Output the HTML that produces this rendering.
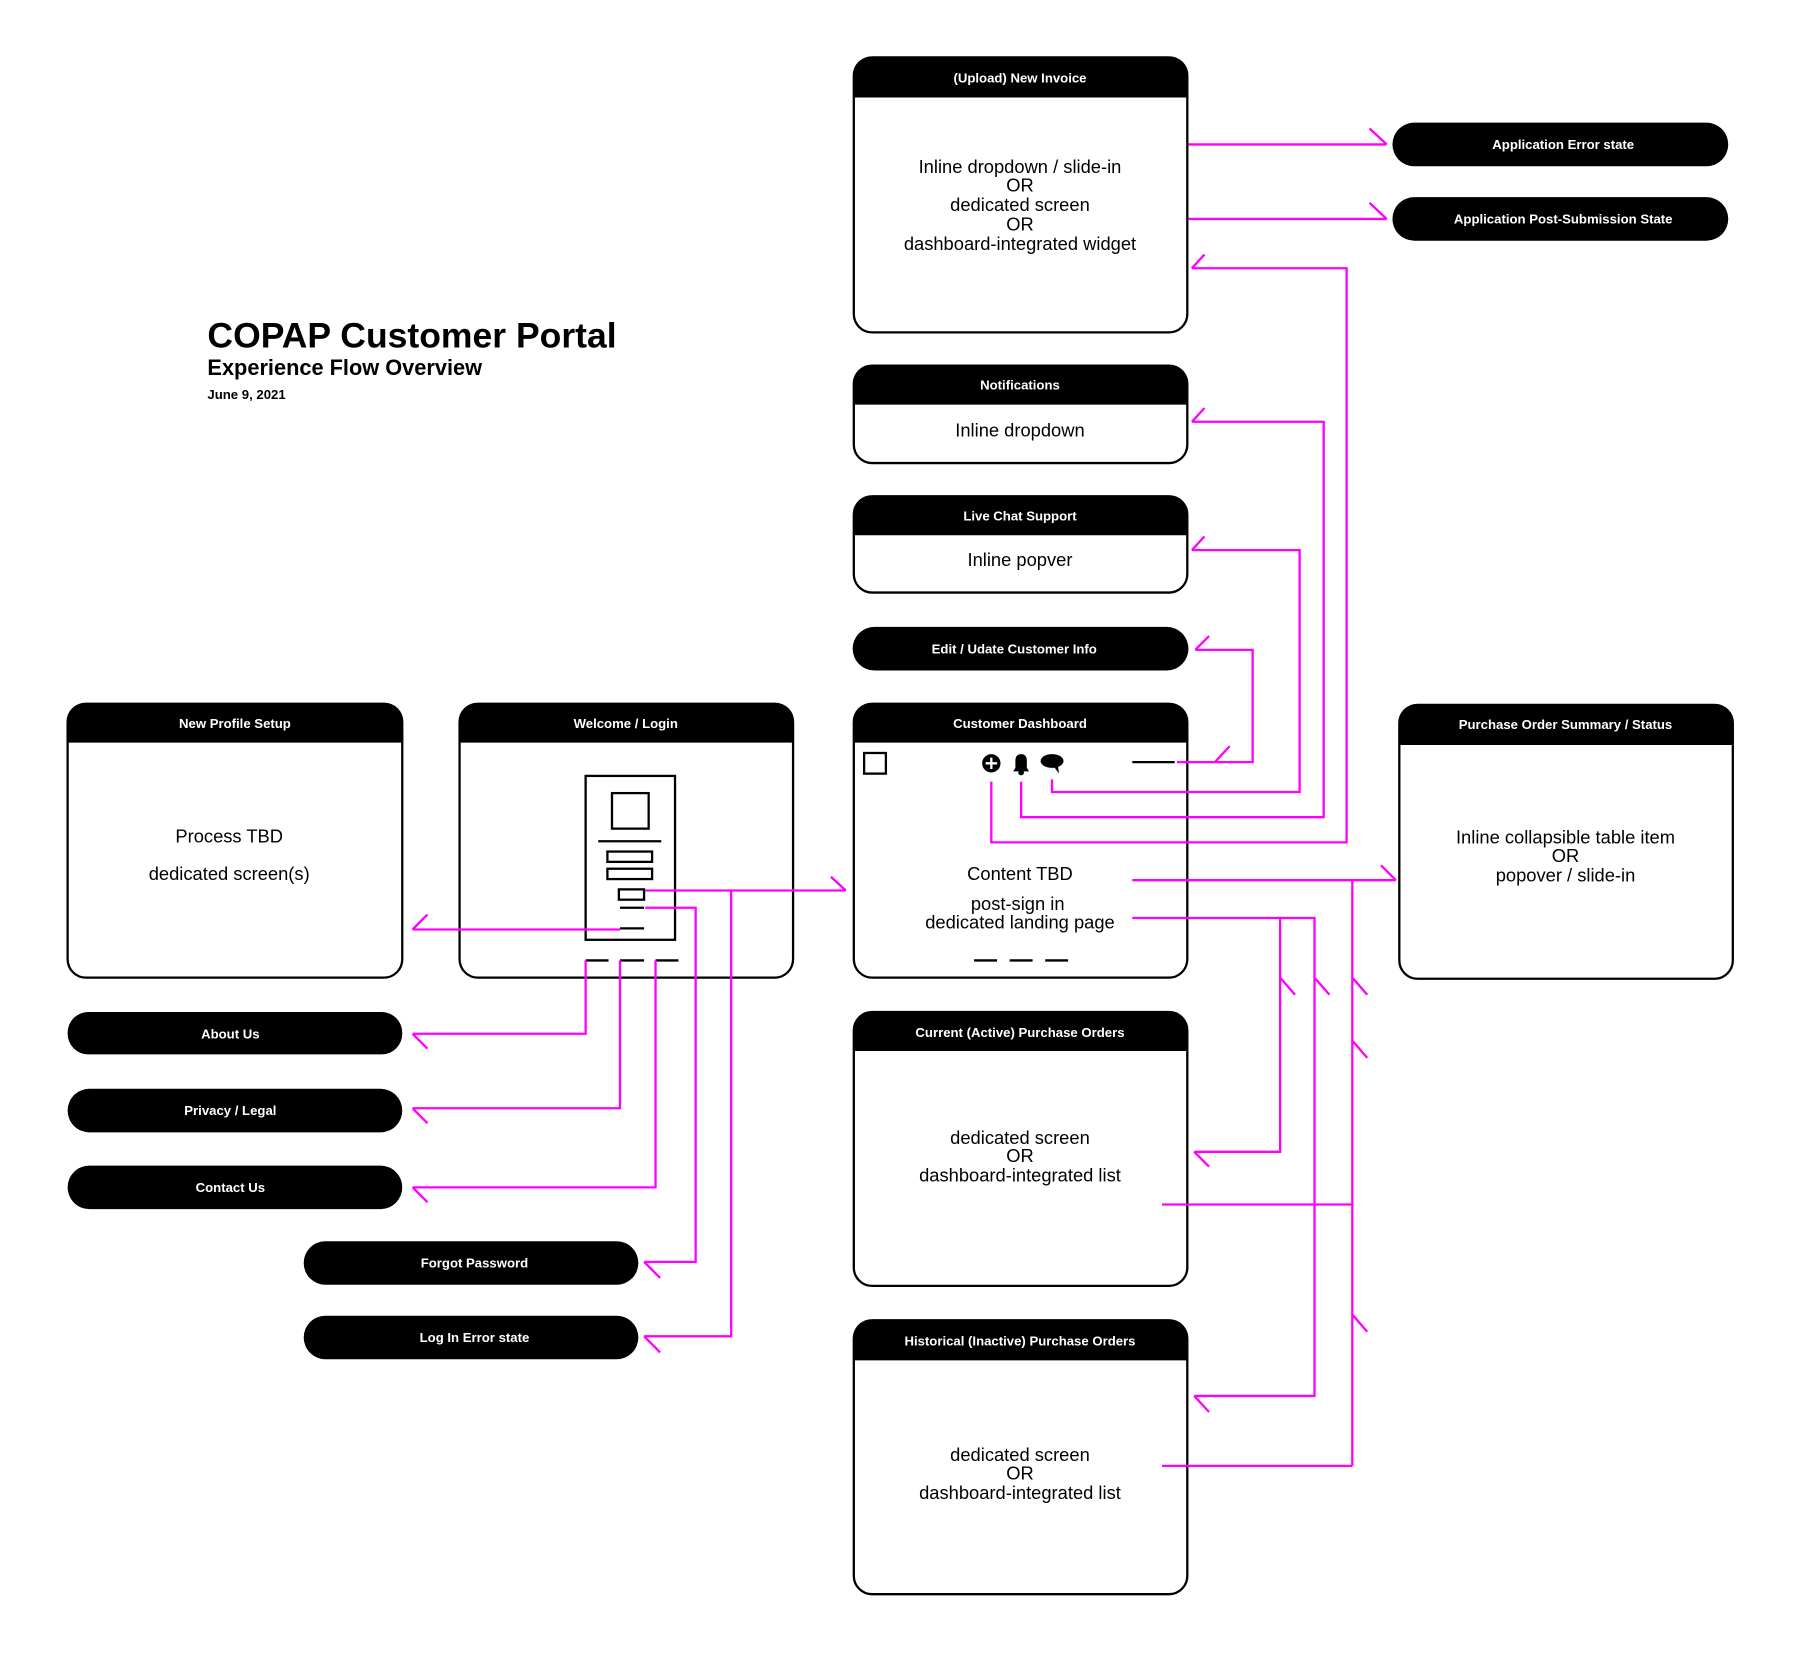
<!DOCTYPE html>
<html><head><meta charset="utf-8"><style>
html,body{margin:0;padding:0;background:#fff;}
svg{display:block}
text{font-family:"Liberation Sans",sans-serif;}
.h{fill:#fff;font-size:11.5px;font-weight:bold;text-anchor:middle}
.b{fill:#000;font-size:16px;text-anchor:middle}
.m{fill:none;stroke:#ff00ff;stroke-width:2}
.k{fill:none;stroke:#000;stroke-width:2}
</style></head><body>
<svg width="1797" height="1663" viewBox="0 0 1568 1451" xmlns="http://www.w3.org/2000/svg">
<text x="181" y="303" font-size="31" font-weight="bold">COPAP Customer Portal</text>
<text x="181" y="327" font-size="19" font-weight="bold">Experience Flow Overview</text>
<text x="181" y="348" font-size="11.5" font-weight="bold">June 9, 2021</text>

<rect x="745" y="50" width="291" height="240" rx="16" fill="#fff" stroke="#000" stroke-width="2"/>
<path d="M745,85 V66 Q745,50 761,50 H1020 Q1036,50 1036,66 V85 Z" fill="#000"/>
<text class="h" x="890" y="72">(Upload) New Invoice</text>
<text class="b" x="890" y="151">Inline dropdown / slide-in</text>
<text class="b" x="890" y="167">OR</text>
<text class="b" x="890" y="184">dedicated screen</text>
<text class="b" x="890" y="201">OR</text>
<text class="b" x="890" y="218">dashboard-integrated widget</text>

<rect x="745" y="319" width="291" height="85" rx="16" fill="#fff" stroke="#000" stroke-width="2"/>
<path d="M745,353 V335 Q745,319 761,319 H1020 Q1036,319 1036,335 V353 Z" fill="#000"/>
<text class="h" x="890" y="340">Notifications</text>
<text class="b" x="890" y="381">Inline dropdown</text>

<rect x="745" y="433" width="291" height="84" rx="16" fill="#fff" stroke="#000" stroke-width="2"/>
<path d="M745,467 V449 Q745,433 761,433 H1020 Q1036,433 1036,449 V467 Z" fill="#000"/>
<text class="h" x="890" y="454">Live Chat Support</text>
<text class="b" x="890" y="494">Inline popver</text>

<rect x="744" y="547" width="293" height="38" rx="19" fill="#000"/>
<text class="h" x="885" y="570">Edit / Udate Customer Info</text>

<rect x="745" y="614" width="291" height="239" rx="16" fill="#fff" stroke="#000" stroke-width="2"/>
<path d="M745,648 V630 Q745,614 761,614 H1020 Q1036,614 1036,630 V648 Z" fill="#000"/>
<text class="h" x="890" y="635">Customer Dashboard</text>
<rect x="754" y="657" width="19" height="18" class="k"/>
<circle cx="865" cy="666" r="8" fill="#000"/>
<path d="M860,666 H870 M865,661 V671" stroke="#fff" stroke-width="2"/>
<path d="M884,673 H898 L896,670 V664 Q896,658 891,658 Q886,658 886,664 V670 Z" fill="#000"/>
<circle cx="891" cy="674" r="2.5" fill="#000"/>
<ellipse cx="918" cy="664" rx="10" ry="6" fill="#000"/>
<path d="M919,668 L924,675 L923,667 Z" fill="#000"/>
<path d="M988,665 H1025" stroke="#000" stroke-width="2"/>
<text class="b" x="890" y="768">Content TBD</text>
<text class="b" x="888" y="794">post-sign in</text>
<text class="b" x="890" y="810">dedicated landing page</text>
<path d="M850,838 H870 M881,838 H901 M912,838 H932" stroke="#000" stroke-width="2"/>

<rect x="401" y="614" width="291" height="239" rx="16" fill="#fff" stroke="#000" stroke-width="2"/>
<path d="M401,648 V630 Q401,614 417,614 H676 Q692,614 692,630 V648 Z" fill="#000"/>
<text class="h" x="546" y="635">Welcome / Login</text>
<rect x="511" y="677" width="78" height="143" class="k"/>
<rect x="534" y="692" width="32" height="31" class="k"/>
<path d="M522,734 H577" stroke="#000" stroke-width="2"/>
<rect x="530" y="743" width="39" height="9" class="k"/>
<rect x="530" y="758" width="39" height="9" class="k"/>
<rect x="540" y="776" width="22" height="9" class="k"/>
<path d="M541,792 H562 M541,810 H562" stroke="#000" stroke-width="2"/>
<path d="M511,838 H531 M541,838 H562 M572,838 H592" stroke="#000" stroke-width="2"/>

<rect x="59" y="614" width="292" height="239" rx="16" fill="#fff" stroke="#000" stroke-width="2"/>
<path d="M59,648 V630 Q59,614 75,614 H335 Q351,614 351,630 V648 Z" fill="#000"/>
<text class="h" x="205" y="635">New Profile Setup</text>
<text class="b" x="200" y="735">Process TBD</text>
<text class="b" x="200" y="768">dedicated screen(s)</text>

<rect x="1221" y="615" width="291" height="239" rx="16" fill="#fff" stroke="#000" stroke-width="2"/>
<path d="M1221,650 V631 Q1221,615 1237,615 H1496 Q1512,615 1512,631 V650 Z" fill="#000"/>
<text class="h" x="1366" y="636">Purchase Order Summary / Status</text>
<text class="b" x="1366" y="736">Inline collapsible table item</text>
<text class="b" x="1366" y="752">OR</text>
<text class="b" x="1366" y="769">popover / slide-in</text>

<rect x="745" y="883" width="291" height="239" rx="16" fill="#fff" stroke="#000" stroke-width="2"/>
<path d="M745,917 V899 Q745,883 761,883 H1020 Q1036,883 1036,899 V917 Z" fill="#000"/>
<text class="h" x="890" y="905">Current (Active) Purchase Orders</text>
<text class="b" x="890" y="998">dedicated screen</text>
<text class="b" x="890" y="1014">OR</text>
<text class="b" x="890" y="1031">dashboard-integrated list</text>

<rect x="745" y="1152" width="291" height="239" rx="16" fill="#fff" stroke="#000" stroke-width="2"/>
<path d="M745,1187 V1168 Q745,1152 761,1152 H1020 Q1036,1152 1036,1168 V1187 Z" fill="#000"/>
<text class="h" x="890" y="1174">Historical (Inactive) Purchase Orders</text>
<text class="b" x="890" y="1275">dedicated screen</text>
<text class="b" x="890" y="1291">OR</text>
<text class="b" x="890" y="1308">dashboard-integrated list</text>

<rect x="1215" y="107" width="293" height="38" rx="19" fill="#000"/>
<text class="h" x="1364" y="130">Application Error state</text>
<rect x="1215" y="172" width="293" height="38" rx="19" fill="#000"/>
<text class="h" x="1364" y="195">Application Post-Submission State</text>
<rect x="59" y="883" width="292" height="37" rx="18" fill="#000"/>
<text class="h" x="201" y="906">About Us</text>
<rect x="59" y="950" width="292" height="38" rx="19" fill="#000"/>
<text class="h" x="201" y="973">Privacy / Legal</text>
<rect x="59" y="1017" width="292" height="38" rx="19" fill="#000"/>
<text class="h" x="201" y="1040">Contact Us</text>
<rect x="265" y="1083" width="292" height="38" rx="19" fill="#000"/>
<text class="h" x="414" y="1106">Forgot Password</text>
<rect x="265" y="1148" width="292" height="38" rx="19" fill="#000"/>
<text class="h" x="414" y="1171">Log In Error state</text>

<path class="m" d="M1037,126 H1210 M1195,112 L1210,126"/>
<path class="m" d="M1037,191 H1210 M1195,177 L1210,191"/>
<path class="m" d="M865,682 V735 H1175 V234 H1040 M1040,234 L1051,222"/>
<path class="m" d="M891,682 V713 H1155 V368 H1040 M1040,368 L1051,356"/>
<path class="m" d="M918,680 V691 H1134 V480 H1040 M1040,480 L1051,468"/>
<path class="m" d="M1027,665 H1093 V567 H1043 M1043,567 L1055,555 M1060,665 L1073,651"/>
<path class="m" d="M563,777 H738 M725,765 L738,777"/>
<path class="m" d="M638,777 V1166 H562 M562,1166 L576,1180"/>
<path class="m" d="M563,792 H607 V1101 H562 M562,1101 L576,1115"/>
<path class="m" d="M541,811 H360 M360,811 L373,798"/>
<path class="m" d="M511,838 V902 H360 M360,902 L373,915"/>
<path class="m" d="M541,838 V967 H360 M360,967 L373,980"/>
<path class="m" d="M572,838 V1036 H360 M360,1036 L373,1049"/>
<path class="m" d="M988,768 H1218 M1205,755 L1218,768"/>
<path class="m" d="M1180,768 V1279 M1014,1051 H1180 M1014,1279 H1180 M1180,853 L1193,868 M1180,908 L1193,923 M1180,1147 L1193,1162"/>
<path class="m" d="M988,801 H1147 V1218 H1042 M1042,1218 L1055,1232 M1147,853 L1160,868"/>
<path class="m" d="M1117,801 V1005 H1042 M1042,1005 L1055,1018 M1117,853 L1130,868"/>
</svg>
</body></html>
